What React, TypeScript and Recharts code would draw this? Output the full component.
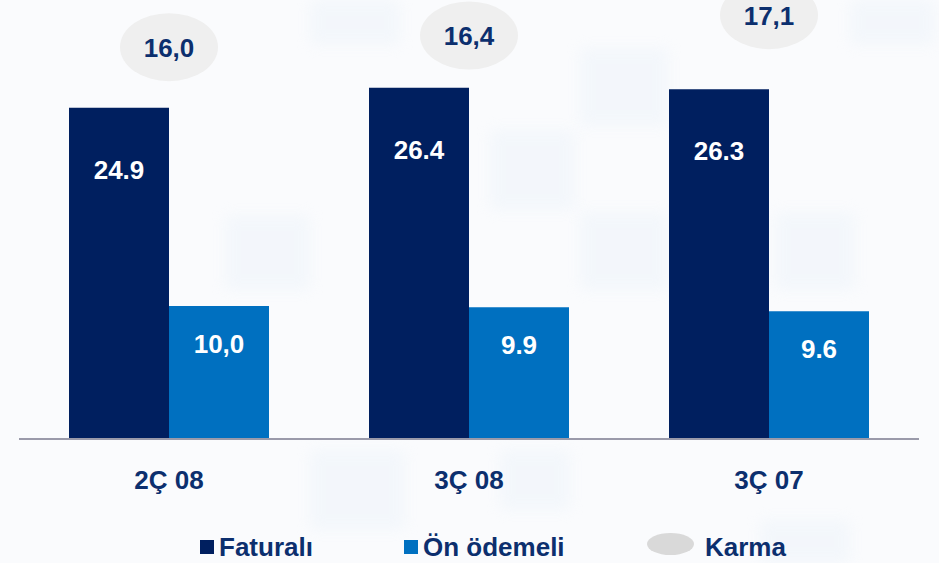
import React from "react";
import { Bar, ComposedChart, LabelList, Line, XAxis, YAxis } from "recharts";

const categories = ["2Ç 08", "3Ç 08", "3Ç 07"];
const faturali = [24.9, 26.4, 26.3];
const faturaliLabels = ["24.9", "26.4", "26.3"];
const onOdemeli = [10.0, 9.9, 9.6];
const onOdemeliLabels = ["10,0", "9.9", "9.6"];
const karma = [16.0, 16.4, 17.1];
const karmaLabels = ["16,0", "16,4", "17,1"];

const NAVY = "#001f5f";
const BLUE = "#0070c0";
const INK = "#0c2f6e";
const FONT = "'Liberation Sans', Arial, sans-serif";
const FS = 26;

const data = categories.map((name, i) => ({
  name,
  faturali: faturali[i],
  onOdemeli: onOdemeli[i],
  karma: karma[i],
}));

// faint blurred tiles in the background of the slide
const tiles = [
  { l: 310, t: 0, w: 90, h: 45 },
  { l: 580, t: 48, w: 88, h: 78 },
  { l: 850, t: 0, w: 85, h: 45 },
  { l: 225, t: 215, w: 85, h: 75 },
  { l: 490, t: 130, w: 85, h: 80 },
  { l: 580, t: 212, w: 88, h: 78 },
  { l: 775, t: 212, w: 80, h: 78 },
  { l: 310, t: 450, w: 95, h: 80 },
  { l: 500, t: 450, w: 70, h: 60 },
  { l: 760, t: 520, w: 90, h: 43 },
];

function inBarLabel(labels: string[], dy: number) {
  return (props: any) => {
    const { x, y, width, index } = props;
    return (
      <text
        x={Number(x) + Number(width) / 2}
        y={Number(y) + dy}
        fill="#ffffff"
        fontSize={FS}
        fontWeight={700}
        fontFamily={FONT}
        textAnchor="middle"
        dominantBaseline="central"
      >
        {labels[index]}
      </text>
    );
  };
}

function KarmaDot(props: any) {
  const { cx, cy, index } = props;
  if (cx == null || cy == null) return null;
  return (
    <g key={`k-${index}`}>
      <ellipse cx={cx} cy={cy} rx={49} ry={34} fill="#efefef" />
      <text
        x={cx}
        y={cy + 1}
        fill={INK}
        fontSize={FS}
        fontWeight={700}
        fontFamily={FONT}
        textAnchor="middle"
        dominantBaseline="central"
      >
        {karmaLabels[index]}
      </text>
    </g>
  );
}

function CatTick(props: any) {
  const { x, y, payload } = props;
  return (
    <text
      x={x}
      y={y + 33}
      fill={INK}
      fontSize={FS}
      fontWeight={700}
      fontFamily={FONT}
      textAnchor="middle"
      dominantBaseline="central"
    >
      {payload.value}
    </text>
  );
}

const legendText: React.CSSProperties = {
  fontFamily: FONT,
  fontWeight: 700,
  fontSize: FS,
  color: INK,
  position: "absolute",
  top: 547,
  transform: "translateY(-50%)",
  whiteSpace: "nowrap",
};

export default function App() {
  return (
    <div
      style={{
        position: "fixed",
        left: 0,
        top: 0,
        width: 939,
        height: 563,
        background: "#fafbfd",
        overflow: "hidden",
      }}
    >
      {tiles.map((t, i) => (
        <div
          key={i}
          style={{
            position: "absolute",
            left: t.l,
            top: t.t,
            width: t.w,
            height: t.h,
            background: "#e9f1f9",
            opacity: 0.4,
            filter: "blur(7px)",
          }}
        />
      ))}
      <div style={{ position: "absolute", left: 0, top: 0 }}>
        <ComposedChart
          width={939}
          height={563}
          data={data}
          margin={{ top: 0, right: 20, bottom: 64, left: 19 }}
          barGap={0}
        >
          <XAxis
            dataKey="name"
            height={60}
            axisLine={{ stroke: "#9a9aaa", strokeWidth: 2 }}
            tickLine={false}
            tick={<CatTick />}
          />
          <YAxis yAxisId="v" hide domain={[0, 33]} />
          <YAxis yAxisId="k" hide domain={[2.53, 17.62]} />
          <Bar
            yAxisId="v"
            dataKey="faturali"
            fill={NAVY}
            barSize={100}
            isAnimationActive={false}
          >
            <LabelList dataKey="faturali" content={inBarLabel(faturaliLabels, 62)} />
          </Bar>
          <Bar
            yAxisId="v"
            dataKey="onOdemeli"
            fill={BLUE}
            barSize={100}
            isAnimationActive={false}
          >
            <LabelList dataKey="onOdemeli" content={inBarLabel(onOdemeliLabels, 38)} />
          </Bar>
          <Line
            yAxisId="k"
            dataKey="karma"
            stroke="none"
            dot={<KarmaDot />}
            activeDot={false}
            isAnimationActive={false}
          />
        </ComposedChart>
      </div>

      {/* legend */}
      <div
        style={{
          position: "absolute",
          left: 200,
          top: 540,
          width: 14,
          height: 14,
          background: NAVY,
        }}
      />
      <div style={{ ...legendText, left: 219 }}>Faturalı</div>
      <div
        style={{
          position: "absolute",
          left: 404,
          top: 540,
          width: 14,
          height: 14,
          background: BLUE,
        }}
      />
      <div style={{ ...legendText, left: 423 }}>Ön ödemeli</div>
      <div
        style={{
          position: "absolute",
          left: 647,
          top: 533,
          width: 47,
          height: 22,
          borderRadius: "50%",
          background: "#d9d9d9",
        }}
      />
      <div style={{ ...legendText, left: 705 }}>Karma</div>
    </div>
  );
}
